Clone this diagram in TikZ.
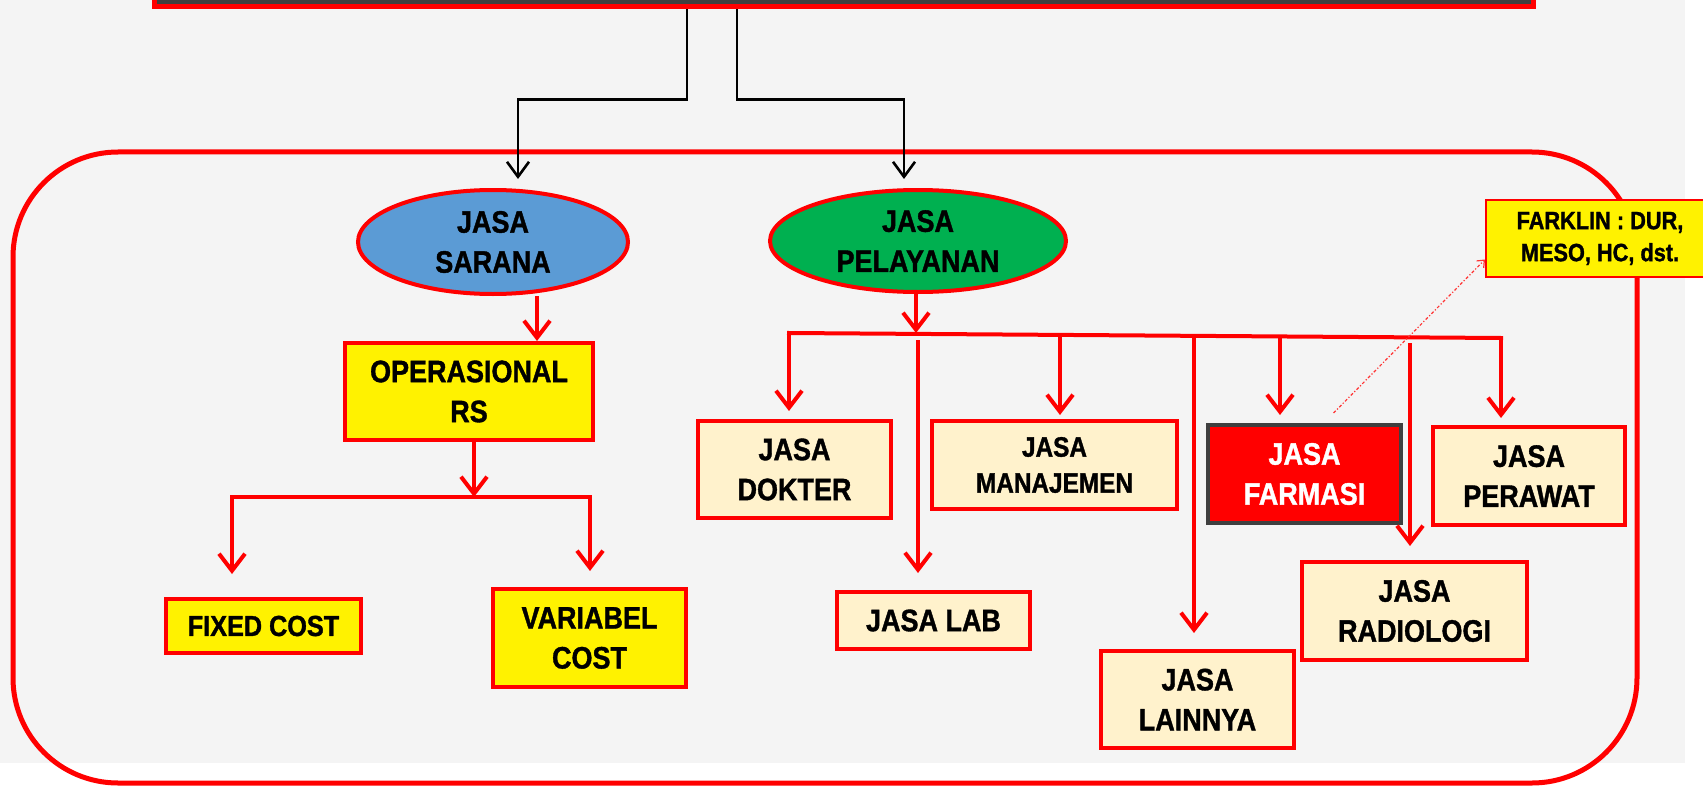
\documentclass[tikz,border=0pt]{standalone}
\usepackage{fontspec}
\newfontfamily\boxfont{Liberation Sans}[FakeStretch=0.87, BoldFeatures={FakeBold=1.2}]
\usetikzlibrary{shapes.geometric,arrows.meta}
\definecolor{bggray}{HTML}{F4F4F4}
\definecolor{cream}{HTML}{FFF2CC}
\definecolor{sarblue}{HTML}{5B9BD5}
\definecolor{pelgreen}{HTML}{00B050}
\definecolor{topdark}{HTML}{3F3F3F}
\begin{document}
\begin{tikzpicture}[x=1pt,y=-1pt,
    jasabox/.style={rectangle, draw=red, line width=4pt, fill=cream, inner sep=0pt,
      align=center, font=\boxfont\bfseries\fontsize{31}{40}\selectfont},
    yellowbox/.style={jasabox, fill=yellow},
    oval/.style={ellipse, draw=red, line width=4pt, inner sep=0pt,
      align=center, font=\boxfont\bfseries\fontsize{31}{40}\selectfont},
    rline/.style={draw=red, line width=4pt, line cap=rect},
    rarrow/.style={draw=red, line width=4pt, -{Straight Barb[length=17pt,width=26pt]}},
    barrow/.style={draw=black, line width=2.6pt, -{Straight Barb[length=15pt,width=22pt]}},
    noteline/.style={draw=red!80, line width=1.2pt, dash dot, -{Straight Barb[length=6pt,width=10pt]}}]
  \useasboundingbox (0,0) rectangle (1703,789);
  \fill[white] (0,0) rectangle (1703,789);
  \fill[bggray] (0,0) rectangle (1685,763);
  \draw[red, line width=5pt, rounded corners=105pt] (13,152) rectangle (1637,783);

  \node[draw=red, fill=topdark, line width=5pt, minimum width=1379pt, minimum height=54pt] (top) at (843.5,-20) {};

  \node[oval, fill=sarblue, minimum width=270pt, minimum height=104pt] (sarana) at (493,242) {JASA\\SARANA};
  \node[oval, fill=pelgreen, minimum width=296pt, minimum height=102pt] (pelayanan) at (918,241) {JASA\\PELAYANAN};

  \node[yellowbox, minimum width=248pt, minimum height=97pt] (opr) at (469,391.5) {OPERASIONAL\\RS};
  \node[yellowbox, minimum width=195pt, minimum height=54pt, font=\boxfont\bfseries\fontsize{29}{36}\selectfont] (fixed) at (263.5,626) {FIXED COST};
  \node[yellowbox, minimum width=193pt, minimum height=98pt] (variabel) at (589.5,638) {VARIABEL\\COST};

  \node[jasabox, minimum width=193pt, minimum height=97pt] (dokter) at (794.5,469.5) {JASA\\DOKTER};
  \node[jasabox, minimum width=193pt, minimum height=57pt] (lab) at (933.5,620.5) {JASA LAB};
  \node[jasabox, minimum width=245pt, minimum height=88pt, font=\boxfont\bfseries\fontsize{28}{36}\selectfont] (manajemen) at (1054.5,465) {JASA\\MANAJEMEN};
  \node[jasabox, minimum width=193pt, minimum height=97pt] (lainnya) at (1197.5,699.5) {JASA\\LAINNYA};
  \node[jasabox, draw=topdark, fill=red, text=white, minimum width=193pt, minimum height=98pt] (farmasi) at (1304.5,474) {JASA\\FARMASI};
  \node[jasabox, minimum width=225pt, minimum height=98pt] (radiologi) at (1414.5,611) {JASA\\RADIOLOGI};
  \node[jasabox, minimum width=192pt, minimum height=98pt] (perawat) at (1529,476) {JASA\\PERAWAT};

  \node[yellowbox, line width=2pt, minimum width=228pt, minimum height=77pt, font=\boxfont\bfseries\fontsize{25}{32}\selectfont] (farklin) at (1600,238.5) {FARKLIN : DUR,\\MESO, HC, dst.};

  % from the top bar
  \draw[barrow, shorten >=9pt] ([xshift=-156.5pt]top.south) -- ++(0,90) -| ([xshift=25pt]sarana.north);
  \draw[barrow, shorten >=9pt] ([xshift=-106.5pt]top.south) -- ++(0,90) -| ([xshift=-14pt]pelayanan.north);

  % jasa sarana
  \coordinate (sp) at (474,497);
  \coordinate (fl) at (232,497);
  \coordinate (fr) at (590,497);
  \draw[rarrow] ([xshift=44pt]sarana.south) -- ([xshift=68pt]opr.north);
  \draw[rarrow] ([xshift=5pt]opr.south) -- (sp);
  \draw[rline] (fl) -- (fr);
  \draw[rarrow, shorten >=23pt] (fl) -- (fl |- fixed.north);
  \draw[rarrow, shorten >=16pt] (fr) -- (fr |- variabel.north);

  % jasa pelayanan
  \coordinate (pl) at (789,333);
  \coordinate (pr) at (1501,338);
  \coordinate (d2) at (918,340);
  \coordinate (d3) at (1060,335);
  \coordinate (d4) at (1194,336);
  \coordinate (d5) at (1280,336.5);
  \coordinate (d6) at (1410,343);
  \draw[rarrow] ([xshift=-2pt]pelayanan.south) -- ([xshift=-2pt]pelayanan.south |- pl);
  \draw[rline] (pl) -- (pr);
  \draw[rarrow, shorten >=8pt] (pl) -- (pl |- dokter.north);
  \draw[rarrow, shorten >=17pt] (d2) -- (d2 |- lab.north);
  \draw[rarrow, shorten >=4pt] (d3) -- (d3 |- manajemen.north);
  \draw[rarrow, shorten >=16pt] (d4) -- (d4 |- lainnya.north);
  \draw[rarrow, shorten >=8pt] (d5) -- (d5 |- farmasi.north);
  \draw[rarrow, shorten >=14pt] (d6) -- (d6 |- radiologi.north);
  \draw[rarrow, shorten >=7pt] (pr) -- (pr |- perawat.north);

  \draw[noteline] ([xshift=29pt,yshift=10pt]farmasi.north) -- ([yshift=-21pt]farklin.west);
\end{tikzpicture}
\end{document}
